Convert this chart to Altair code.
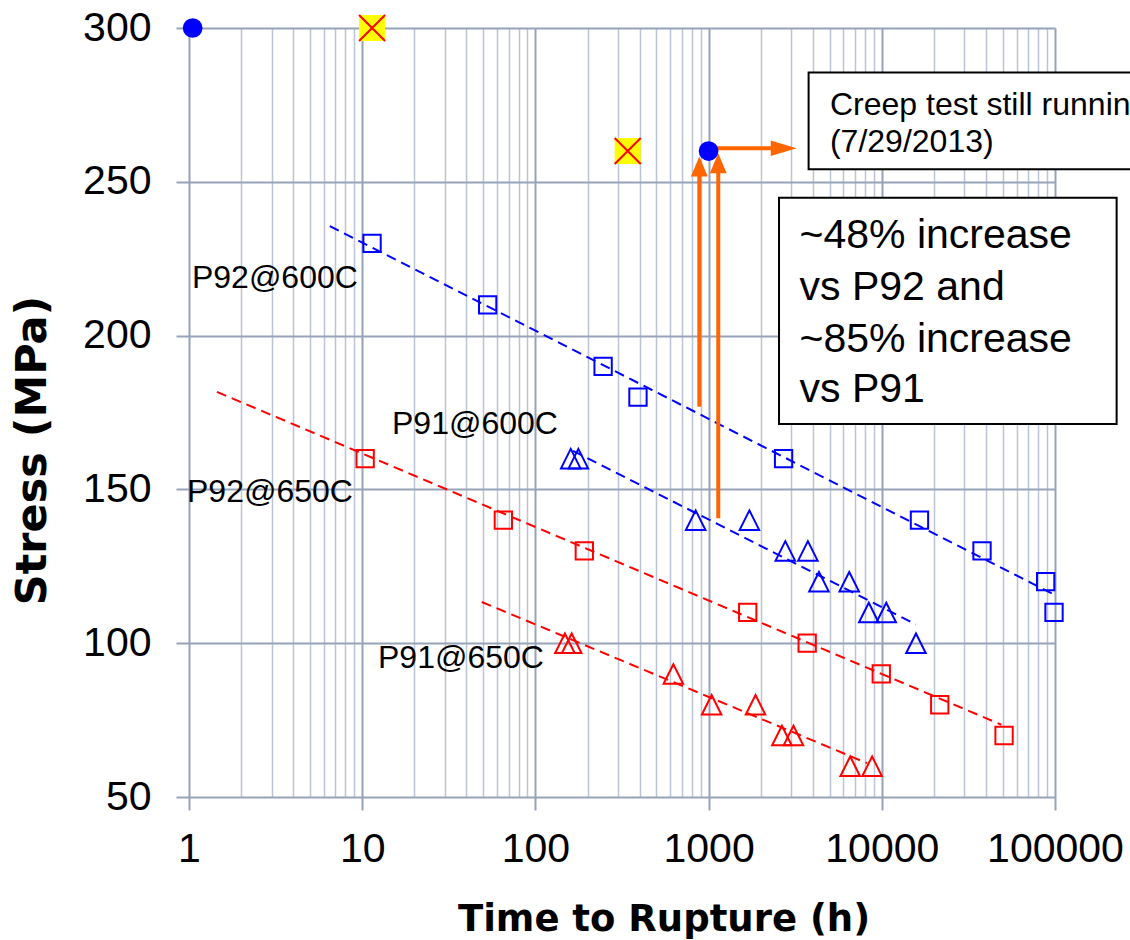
import altair as alt
import pandas as pd

# ---------------- data ----------------
p92_600_t = [11.4, 53, 246, 391, 2710, 16500, 37900, 88300, 98700]
p92_600_s = [230, 210, 190, 180, 160, 140, 130, 120, 110]

p91_600_t = [160, 177, 842, 1720, 2773, 3743, 4337, 6485, 8410, 10610, 15750]
p91_600_s = [160, 160, 140, 140, 130, 130, 120, 120, 110, 110, 100]

p92_650_t = [10.4, 65.3, 191.6, 1682, 3708, 9930, 21600, 50800]
p92_650_s = [160, 140, 130, 110, 100, 90, 80, 70]

p91_650_t = [148, 162, 626, 1041, 1866, 2650, 3090, 6570, 8790]
p91_650_s = [100, 100, 90, 80, 80, 70, 70, 60, 60]

new_t = [1.05, 1000]
new_s = [300, 260]
fail_t = [11.4, 341]
fail_s = [300, 260]

fit_names = ["P92@600C", "P91@600C", "P92@650C", "P91@650C"]
fit_t0 = [6.5, 165, 1.45, 49]
fit_s0 = [235.6, 162.5, 181.7, 113.4]
fit_t1 = [99600, 15750, 49000, 8220]
fit_s1 = [115.7, 106.1, 73.5, 61.0]
fit_colors = ["#0000FF", "#0000FF", "#FF0000", "#FF0000"]

label_text = ["P92@600C", "P91@600C", "P92@650C", "P91@650C"]
label_t = [1.04, 14.86, 0.974, 12.34]
label_s = [215.5, 168.0, 145.9, 91.9]

arrow_up_t = [884, 1137]
arrow_up_s0 = [176.9, 140.6]
arrow_up_shaft_top = [252.0, 253.0]
arrow_up_tip = [258.2, 259.3]
arrow_r_t0 = [1116]
arrow_r_shaft_end = [2291]
arrow_r_tip = [3227]
arrow_r_s = [260.9]

box_t0 = [3779, 2550]
box_t1 = [300000, 226900]
box_s0 = [254.1, 171.3]
box_s1 = [285.5, 244.8]

note_lines = ["Creep test still running", "(7/29/2013)"]
note_t = [5020, 5020]
note_s = [271.7, 259.8]

claim_lines = ["~48% increase", "vs P92 and", "~85% increase", "vs P91"]
claim_t = [3350, 3350, 3350, 3350]
claim_s = [228.4, 211.6, 194.8, 178.5]

x_ticks = [m * 10 ** e for e in range(0, 5) for m in range(1, 10)] + [100000]
y_ticks = [50, 100, 150, 200, 250, 300]

# ---------------- scales / axes ----------------
MAJOR = "indexof([1,10,100,1000,10000,100000], datum.value) >= 0"
MAJ_C = "#97A3B9"
MIN_C = "#BAC4D4"

xscale = alt.Scale(type="log", domain=[1, 100000], nice=False)
yscale = alt.Scale(domain=[50, 300], nice=False, zero=False)

xaxis = alt.Axis(
    values=x_ticks, format="d",
    labelExpr=MAJOR + " ? datum.label : ''",
    title="Time to Rupture (h)",
    grid=True,
    gridColor={"condition": {"test": MAJOR, "value": MAJ_C}, "value": MIN_C},
    gridWidth={"condition": {"test": MAJOR, "value": 2}, "value": 1.5},
    tickOpacity={"condition": {"test": MAJOR, "value": 1}, "value": 0},
    tickColor=MAJ_C, tickWidth=2, tickSize=13, domain=False,
    labelFont="Liberation Sans", labelFontSize=41, labelColor="black",
    labelPadding=19, labelFlush=False, labelOverlap=False,
    titleFont="DejaVu Sans", titleFontSize=37, titleFontWeight="bold",
    titleColor="black", titleX=474.5, titleY=133, titleAlign="center",
    titleBaseline="alphabetic",
)
yaxis = alt.Axis(
    values=y_ticks, title="Stress (MPa)", grid=True,
    gridColor=MAJ_C, gridWidth=2, tickColor=MAJ_C, tickWidth=2, tickSize=13,
    domain=False, labelFont="Liberation Sans", labelFontSize=41,
    labelColor="black", labelPadding=25,
    titleFont="DejaVu Sans", titleFontSize=43, titleFontWeight="bold",
    titleColor="black", titleAngle=270, titleX=-144, titleY=422,
    titleAlign="center", titleBaseline="alphabetic",
)


def X(f):
    return alt.X(f, type="quantitative", scale=xscale, axis=xaxis)


def Y(f):
    return alt.Y(f, type="quantitative", scale=yscale, axis=yaxis)


# ---------------- tables ----------------
fit_rows = []
for n, a, b, c, d, col in zip(fit_names, fit_t0, fit_s0, fit_t1, fit_s1, fit_colors):
    fit_rows.append({"series": n, "t": a, "s": b, "color": col, "o": 0})
    fit_rows.append({"series": n, "t": c, "s": d, "color": col, "o": 1})
fit_df = pd.DataFrame(fit_rows)

sq_df = pd.concat([
    pd.DataFrame({"t": p92_600_t, "s": p92_600_s, "color": "#0000FF"}),
    pd.DataFrame({"t": p92_650_t, "s": p92_650_s, "color": "#FF0000"}),
])
tri_df = pd.concat([
    pd.DataFrame({"t": p91_600_t, "s": p91_600_s, "color": "#0000FF"}),
    pd.DataFrame({"t": p91_650_t, "s": p91_650_s, "color": "#FF0000"}),
])

lines = alt.Chart(fit_df).mark_line(strokeDash=[10, 6], strokeWidth=2).encode(
    x=X("t"), y=Y("s"), color=alt.Color("color:N", scale=None),
    detail="series:N", order="o:Q")

squares = alt.Chart(sq_df).mark_point(
    shape="square", filled=False, size=300, strokeWidth=2, opacity=1).encode(
    x=X("t"), y=Y("s"), color=alt.Color("color:N", scale=None))

triangles = alt.Chart(tri_df).mark_point(
    shape="M0,-1L1,1L-1,1Z", filled=False, size=380, strokeWidth=2, opacity=1).encode(
    x=X("t"), y=Y("s"), color=alt.Color("color:N", scale=None))

fail_df = pd.DataFrame({"t": fail_t, "s": fail_s})
fail_bg = alt.Chart(fail_df).mark_point(
    shape="square", filled=True, color="#FFFF00", size=676, opacity=1).encode(
    x=X("t"), y=Y("s"))
fail_x = alt.Chart(fail_df).mark_point(
    shape="M-1,-1L1,1M1,-1L-1,1", filled=False, color="#FF0000", size=676,
    strokeWidth=2, opacity=1).encode(x=X("t"), y=Y("s"))

labels = alt.Chart(pd.DataFrame({"t": label_t, "s": label_s, "txt": label_text})).mark_text(
    align="left", baseline="alphabetic", font="Liberation Sans", fontSize=32,
    color="black").encode(x=X("t"), y=Y("s"), text="txt:N")

boxes = alt.Chart(pd.DataFrame({"t0": box_t0, "t1": box_t1, "s0": box_s0, "s1": box_s1})).mark_rect(
    fill="white", stroke="black", strokeWidth=2).encode(
    x=X("t0"), x2="t1", y=Y("s0"), y2="s1")

note = alt.Chart(pd.DataFrame({"t": note_t, "s": note_s, "txt": note_lines})).mark_text(
    align="left", baseline="alphabetic", font="Liberation Sans", fontSize=32,
    color="black").encode(x=X("t"), y=Y("s"), text="txt:N")

claim = alt.Chart(pd.DataFrame({"t": claim_t, "s": claim_s, "txt": claim_lines})).mark_text(
    align="left", baseline="alphabetic", font="Liberation Sans", fontSize=41,
    color="black").encode(x=X("t"), y=Y("s"), text="txt:N")

ORANGE = "#FF6600"
up_df = pd.DataFrame({"t": arrow_up_t, "s0": arrow_up_s0, "s1": arrow_up_shaft_top, "tip": arrow_up_tip})
up_shafts = alt.Chart(up_df).mark_rule(color=ORANGE, strokeWidth=4).encode(
    x=X("t"), y=Y("s0"), y2="s1")
up_heads = alt.Chart(up_df).mark_point(
    shape="M0,0L0.42,1L-0.42,1Z", filled=True, color=ORANGE, size=1600, opacity=1,
    strokeWidth=0).encode(x=X("t"), y=Y("tip"))

r_df = pd.DataFrame({"t0": arrow_r_t0, "t1": arrow_r_shaft_end, "tip": arrow_r_tip, "s": arrow_r_s})
r_shaft = alt.Chart(r_df).mark_rule(color=ORANGE, strokeWidth=4).encode(
    x=X("t0"), x2="t1", y=Y("s"))
r_head = alt.Chart(r_df).mark_point(
    shape="M0,0L-1,-0.3L-1,0.3Z", filled=True, color=ORANGE, size=2704, opacity=1,
    strokeWidth=0).encode(x=X("tip"), y=Y("s"))

new_pts = alt.Chart(pd.DataFrame({"t": new_t, "s": new_s})).mark_circle(
    size=390, color="#0000FF", opacity=1).encode(x=X("t"), y=Y("s"))

chart = alt.layer(
    lines, squares, triangles, fail_bg, fail_x, labels, boxes, note, claim,
    up_shafts, up_heads, r_shaft, r_head, new_pts,
).properties(
    width=866, height=769,
    padding={"left": 189, "top": 28, "right": 75, "bottom": 143},
    autosize=alt.AutoSizeParams(type="none"),
).configure_view(strokeWidth=0)

chart.save("out.html", embed_options={"renderer": "svg", "actions": False})
